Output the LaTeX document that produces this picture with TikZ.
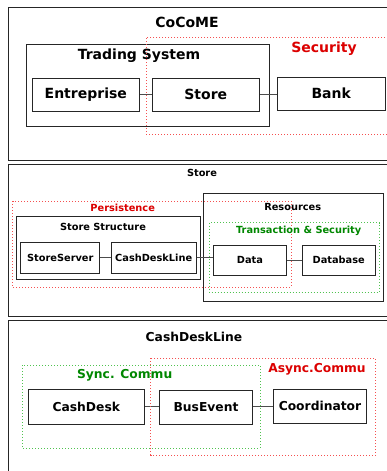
\documentclass[tikz,border=0pt]{standalone}
\usepackage{fontspec}
\setmainfont{DejaVu Sans}
\definecolor{redtxt}{RGB}{220,0,0}
\definecolor{greentxt}{RGB}{0,135,0}
\definecolor{reddot}{RGB}{245,80,80}
\definecolor{greendot}{RGB}{80,195,80}
\begin{document}
\begin{tikzpicture}[x=1pt,y=-1pt,
  frame/.style={draw=black!85,line width=1pt},
  box/.style={draw=black!85,line width=1pt,fill=white,inner sep=0pt,font=\bfseries},
  grp/.style={draw=black!85,line width=1pt},
  reddots/.style={draw=reddot,line width=0.9pt,dash pattern=on 0.9pt off 2.1pt},
  greendots/.style={draw=greendot,line width=0.9pt,dash pattern=on 0.9pt off 2.1pt},
  conn/.style={draw=black!70,line width=1pt},
  fA/.style={font=\fontsize{14}{16}\selectfont\bfseries},
  fB/.style={font=\fontsize{9.8}{12}\selectfont\bfseries},
  fC/.style={font=\fontsize{12.3}{14}\selectfont\bfseries},
  ttl/.style={inner sep=0pt}
]
\useasboundingbox (0,0) rectangle (387,471);
\clip (0,0) rectangle (387,471);
\fill[white] (0,0) rectangle (387,471);

% ---------------- Panel 1 ----------------
\draw[frame] (8.3,7.3) rectangle (400,160.3);
\node[ttl,fA] (t1) at (187,22.7) {CoCoME};
\draw[grp] (26,44) rectangle (269.3,126.7);
\node[ttl,fA] (tts) at (139,55.7) {Trading System};
\node[box,fA,minimum width=107pt,minimum height=33.3pt] (ent) at (85.8,94.7) {Entreprise};
\node[box,fA,minimum width=107pt,minimum height=33.3pt] (store) at (205.8,94.7) {Store};
\node[box,fA,minimum width=107.7pt,minimum height=33pt] (bank) at (331.2,93.5) {Bank};
\draw[conn] (ent.east) -- (store.west);
\draw[conn] (store.east) -- (store.east -| bank.west);
\draw[reddots] (400,37.3) -- (146,37.3) -- (146,134.3) -- (400,134.3);
\node[ttl,fA,text=redtxt] (tsec) at (324,48.3) {Security};

% ---------------- Panel 2 ----------------
\draw[frame] (8.3,164) rectangle (400,316.7);
\node[ttl,fB] (t2) at (202,173.3) {Store};
\draw[grp] (203.7,193.3) rectangle (383.7,301);
\node[ttl,fB] (tres) at (292.7,207.3) {Resources};
\draw[grp] (16.7,216) rectangle (200.3,279.3);
\node[ttl,fB] (tss) at (103,226.7) {Store Structure};
\node[box,fB,minimum width=78.7pt,minimum height=31pt] (ss) at (60.3,257.8) {StoreServer};
\node[box,fB,minimum width=84.7pt,minimum height=31pt] (cdl) at (153.7,257.8) {CashDeskLine};
\node[box,fB,minimum width=73.3pt,minimum height=30pt] (data) at (250,260.3) {Data};
\node[box,fB,minimum width=73.3pt,minimum height=30pt] (db) at (338.7,260.3) {Database};
\draw[conn] (ss.east) -- (cdl.west);
\draw[conn] (cdl.east) -- (cdl.east -| data.west);
\draw[conn] (data.east) -- (db.west);
\draw[reddots] (12.7,201) rectangle (291,287.3);
\node[ttl,fB,text=redtxt] (tpers) at (122.7,208.3) {Persistence};
\draw[greendots] (209.3,222.7) rectangle (379.3,292.3);
\node[ttl,fB,text=greentxt] (tts2) at (298.7,231.3) {Transaction \& Security};

% ---------------- Panel 3 ----------------
\draw[frame] (8.3,320) rectangle (400,490);
\node[ttl,fC] (t3) at (194,337) {CashDeskLine};
\node[box,fC,minimum width=116pt,minimum height=34.6pt] (cd) at (86.3,407) {CashDesk};
\node[box,fC,minimum width=93.4pt,minimum height=33.7pt] (bus) at (206,407.2) {BusEvent};
\node[box,fC,minimum width=93.4pt,minimum height=34pt] (coord) at (320,406.3) {Coordinator};
\draw[conn] (cd.east |- 0,406.3) -- (bus.west |- 0,406.3);
\draw[conn] (bus.east |- 0,406.3) -- (coord.west |- 0,406.3);
\draw[greendots] (22.3,365) rectangle (260,448);
\node[ttl,fC,text=greentxt] (tsync) at (124.7,375) {Sync. Commu};
\draw[reddots] (150.7,358.3) rectangle (375.7,455);
\node[ttl,fC,text=redtxt] (tasync) at (317,369.3) {Async.Commu};
\end{tikzpicture}
\end{document}
